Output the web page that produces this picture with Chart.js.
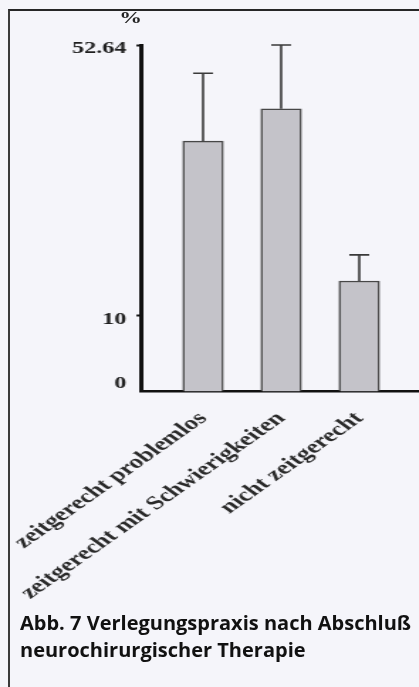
<!DOCTYPE html>
<html>
<head>
<meta charset="utf-8">
<script src="https://cdn.jsdelivr.net/npm/chart.js@4"></script>
<style>
  html, body { margin: 0; padding: 0; background: #f5f5fa; width: 419px; height: 687px; overflow: hidden; }
  #frame { position: absolute; left: 8px; top: 9px; width: 430px; height: 700px;
           border-left: 2px solid #3a3a3a; border-top: 2px solid #262626; box-sizing: border-box; }
  /* the plot is drawn narrow and widened horizontally */
  #plot { position: absolute; left: 0; top: 0; width: 295px; height: 687px;
          transform: scaleX(1.42); transform-origin: 0 0; }
  #unit { position: absolute; left: 83px; top: 10px; width: 18px; text-align: center;
          font: bold 16px "Liberation Serif", serif; line-height: 16px; color: #222; }
  #caption { position: absolute; left: 20px; top: 609px; font: bold 20px "Open Sans", sans-serif;
             line-height: 27px; color: #111; white-space: nowrap; }
</style>
</head>
<body>
<div id="frame"></div>
<div id="plot"><canvas id="c"></canvas><div id="unit">%</div></div>
<div id="caption">Abb. 7 Verlegungspraxis nach Abschluß<br>neurochirurgischer Therapie</div>
<script>
// Verlegungspraxis: mean share (%) and standard deviation per group
const categories = ['zeitgerecht problemlos', 'zeitgerecht mit Schwierigkeiten', 'nicht zeitgerecht'];
const meanValues = [37.5, 42.6, 15.5];
const sdValues = [10.7, 10.04, 4.1];
const categoryPositions = [1, 2, 3];
const yTickValues = [0, 10, 52.64];
const yMin = -1.9;
const yMax = 52.64;
const xMin = 0.211;
const xMax = 3.764;

// upward-only error bars with a short cap
const errorBars = {
  id: 'errorBars',
  afterDatasetsDraw(chart) {
    const { ctx, scales: { x, y } } = chart;
    ctx.save();
    ctx.strokeStyle = '#3a3a3a';
    ctx.lineWidth = 1.6;
    categoryPositions.forEach((pos, i) => {
      const px = x.getPixelForValue(pos);
      const yBar = y.getPixelForValue(meanValues[i]);
      const yTop = y.getPixelForValue(meanValues[i] + sdValues[i]);
      const half = 7;
      ctx.beginPath();
      ctx.moveTo(px, yBar);
      ctx.lineTo(px, yTop);
      ctx.moveTo(px - half, yTop);
      ctx.lineTo(px + half, yTop);
      ctx.stroke();
    });
    ctx.restore();
  }
};

new Chart(document.getElementById('c'), {
  type: 'bar',
  data: {
    datasets: [{
      data: categoryPositions.map((x, i) => ({ x, y: meanValues[i] })),
      backgroundColor: '#c4c3c9',
      borderColor: '#474747',
      borderWidth: 1.5,
      borderSkipped: 'start',
      barThickness: 28.5,
      base: yMin
    }]
  },
  options: {
    responsive: true,
    maintainAspectRatio: false,
    animation: false,
    layout: { padding: { top: 45, left: 0, right: 0, bottom: 0 } },
    plugins: { legend: { display: false }, tooltip: { enabled: false } },
    scales: {
      x: {
        type: 'linear',
        min: xMin,
        max: xMax,
        offset: false,
        grid: { display: false },
        border: { display: true, color: '#111', width: 2.5 },
        afterBuildTicks: s => { s.ticks = categoryPositions.map(v => ({ value: v })); },
        afterFit: s => { s.height = 295.5; s.paddingLeft = 0; s.paddingRight = 0; },
        ticks: {
          autoSkip: false,
          minRotation: 45,
          maxRotation: 45,
          padding: 8,
          color: '#2a2a2a',
          font: { family: '"Liberation Serif", serif', size: 19, weight: 'bold' },
          callback: v => categories[categoryPositions.indexOf(v)] ?? ''
        }
      },
      y: {
        min: yMin,
        max: yMax,
        afterBuildTicks: s => { s.ticks = yTickValues.map(v => ({ value: v })); },
        afterFit: s => { s.width = 99.6; },
        grid: {
          drawOnChartArea: false,
          tickLength: 3.5,
          tickWidth: 2,
          tickColor: c => (c.tick && c.tick.value === 0) ? 'rgba(0,0,0,0)' : '#111'
        },
        border: { color: '#111', width: 3 },
        ticks: {
          padding: 7,
          labelOffset: 4,
          color: '#1e1e1e',
          font: { family: '"Liberation Serif", serif', size: 17, weight: 'bold' },
          callback: v => String(v)
        }
      }
    }
  },
  plugins: [errorBars]
});
</script>
</body>
</html>
